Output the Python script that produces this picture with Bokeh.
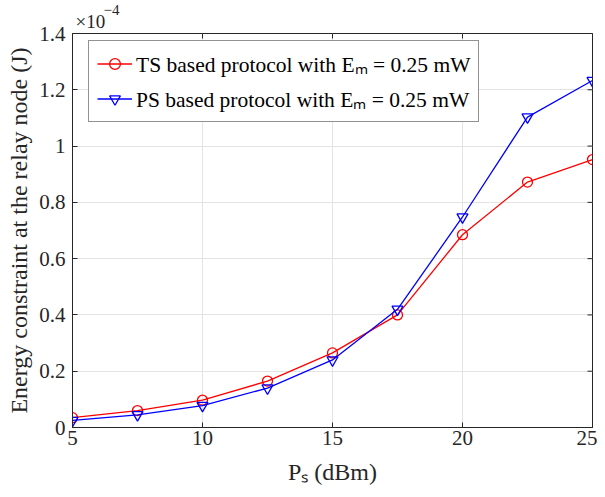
import math
from bokeh.plotting import figure
from bokeh.models import Range1d, FixedTicker, Legend, LegendItem, Title
from bokeh.embed import file_html
from bokeh.resources import INLINE

# Data (energy in units of 1e-4 J)
ps_dbm = [5, 7.5, 10, 12.5, 15, 17.5, 20, 22.5, 25]
ts_energy = [0.035, 0.060, 0.097, 0.165, 0.265, 0.400, 0.685, 0.872, 0.952]
ps_energy = [0.025, 0.045, 0.078, 0.140, 0.240, 0.420, 0.748, 1.103, 1.233]
x_ticks = [5, 10, 15, 20, 25]
y_ticks = [0, 0.2, 0.4, 0.6, 0.8, 1.0, 1.2, 1.4]
y_tick_labels = {0: "0", 0.2: "0.2", 0.4: "0.4", 0.6: "0.6", 0.8: "0.8", 1.0: "1", 1.2: "1.2", 1.4: "1.4"}
legend_labels = ["TS based protocol with E\u2098 = 0.25 mW", "PS based protocol with E\u2098 = 0.25 mW"]
x_label = "P\u209b (dBm)"
y_label = "Energy constraint at the relay node (J)"

FONT = "Liberation Serif"
AX = "#262626"
W, H = 597, 497

p = figure(width=W, height=H, output_backend="svg", toolbar_location=None,
           x_range=Range1d(x_ticks[0], x_ticks[-1]), y_range=Range1d(y_ticks[0], y_ticks[-1]),
           min_border_left=72, min_border_right=5, min_border_top=33, min_border_bottom=70)
p.outline_line_color = AX
p.outline_line_width = 1

for ax in (p.xaxis[0], p.yaxis[0]):
    ax.axis_line_color = AX
    ax.major_tick_line_color = AX
    ax.major_tick_in = 5
    ax.major_tick_out = 0
    ax.minor_tick_line_color = None
    ax.major_label_text_font = FONT
    ax.major_label_text_font_size = "21px"
    ax.major_label_text_color = AX
    ax.axis_label_text_font = FONT
    ax.axis_label_text_font_style = "normal"
    ax.axis_label_text_color = AX

p.xaxis.ticker = FixedTicker(ticks=x_ticks)
p.yaxis.ticker = FixedTicker(ticks=y_ticks)
p.yaxis.major_label_overrides = y_tick_labels
p.xaxis.major_label_standoff = 3
p.yaxis.major_label_standoff = 7
p.yaxis.axis_label = y_label
p.yaxis.axis_label_text_font_size = "24px"
p.yaxis.axis_label_standoff = 4
p.xaxis.axis_label = x_label
p.xaxis.axis_label_text_font_size = "24px"
p.xaxis.axis_label_standoff = 11

p.xgrid.ticker = FixedTicker(ticks=x_ticks)
p.ygrid.ticker = FixedTicker(ticks=y_ticks)
p.grid.grid_line_color = "#e3e3e3"
p.grid.grid_line_width = 1

# inward ticks on the top and right edges of the box
p.scatter(x_ticks, [y_ticks[-1]] * len(x_ticks), marker="dash", angle=math.pi / 2,
          size=10, line_color=AX, line_width=1)
p.scatter([x_ticks[-1]] * len(y_ticks), y_ticks, marker="dash",
          size=10, line_color=AX, line_width=1)

r1 = p.line(ps_dbm, ts_energy, line_color="#ff0000", line_width=1.3)
m1 = p.scatter(ps_dbm, ts_energy, marker="circle", size=10, fill_color=None,
               line_color="#ff0000", line_width=1.3)
r2 = p.line(ps_dbm, ps_energy, line_color="#0000ff", line_width=1.3)
m2 = p.scatter(ps_dbm, ps_energy, marker="inverted_triangle", size=11, fill_color=None,
               line_color="#0000ff", line_width=1.3)

legend = Legend(items=[
    LegendItem(label=legend_labels[0], renderers=[r1, m1]),
    LegendItem(label=legend_labels[1], renderers=[r2, m2]),
], location=(16, 305))
legend.label_text_font = FONT
legend.label_text_font_size = "21.5px"
legend.label_text_color = "#000000"
legend.label_height = 27
legend.glyph_height = 27
legend.glyph_width = 35
legend.label_standoff = 4
legend.spacing = 6
legend.padding = 8
legend.border_line_color = AX
legend.border_line_width = 1
legend.background_fill_color = "white"
legend.background_fill_alpha = 1
p.add_layout(legend)

# exponent above the top-left corner
p.add_layout(Title(text="\u00d710", align="left", offset=3, standoff=3,
                   text_font=FONT, text_font_size="19px", text_font_style="normal",
                   text_color=AX), "above")
p.add_layout(Title(text="\u22124", align="left", offset=31, standoff=-14,
                   text_font=FONT, text_font_size="15px", text_font_style="normal",
                   text_color=AX), "above")

open("out.html", "w").write(file_html(p, INLINE))
